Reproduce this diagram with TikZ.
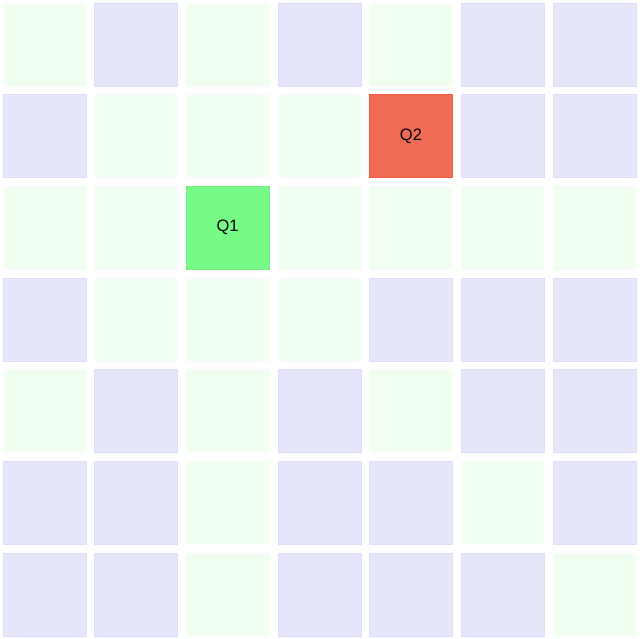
\documentclass[tikz,border=0pt]{standalone}
\usepackage{fontspec}
\setmainfont{Liberation Sans}
\definecolor{boardGreen}{HTML}{F0FFF0}
\definecolor{boardLavender}{HTML}{E6E6FA}
\definecolor{queenGreen}{HTML}{78FC88}
\definecolor{queenRed}{HTML}{EF6B53}
\usetikzlibrary{positioning}

\tikzset{
    cellbox/.style={rectangle, minimum width=83pt, minimum height=83pt, inner sep=0pt, anchor=north west, line width=0.5pt},
    gcell/.style={cellbox, fill=boardGreen, draw=boardGreen!94!black!15},
    lcell/.style={cellbox, fill=boardLavender, draw=boardLavender!96!blue},
    qcell/.style={cellbox, font=\fontsize{16.5}{19}\selectfont},
}
\def\queenmark{x}

\begin{document}
\begin{tikzpicture}[x=1pt, y=-1pt]
        \useasboundingbox (0,0) rectangle (640,638);

        % Board, row by row (x = queen square)
        \foreach \row/\cols in {0/{g,l,g,l,g,l,l}, 1/{l,g,g,g,x,l,l}, 2/{g,g,x,g,g,g,g},
                                3/{l,g,g,g,l,l,l}, 4/{g,l,g,l,g,l,l}, 5/{l,l,g,l,l,g,l},
                                6/{l,l,g,l,l,l,g}} {
            \foreach \c [count=\col from 0] in \cols {
                \ifx\c\queenmark\else
                    \node[\c cell] (cell-\row-\col) at (2.5+91.67*\col, 2.5+91.67*\row) {};
                \fi
            }
        }

        % Queens
        \node[qcell, fill=queenGreen, draw=queenGreen!95!black] (q1) at (2.5+91.67*2, 2.5+91.67*2) {Q1};
        \node[qcell, fill=queenRed, draw=queenRed!85!red] (q2) at (2.5+91.67*4, 2.5+91.67*1) {Q2};
    \end{tikzpicture}
\end{document}
